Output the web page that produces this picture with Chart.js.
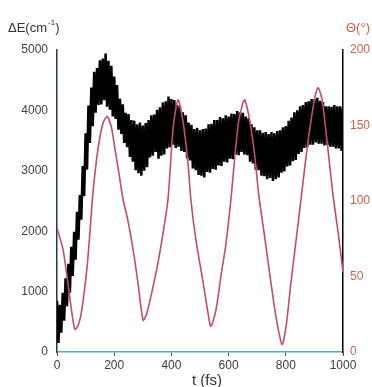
<!DOCTYPE html>
<html>
<head>
<meta charset="utf-8">
<script src="https://cdn.jsdelivr.net/npm/chart.js@4.4.1/dist/chart.umd.min.js"></script>
<style>
  body { margin: 0; background: #fff; }
  #myChart { display: block; }
</style>
</head>
<body>
<canvas id="myChart" width="372" height="387"></canvas>
<script>
// Delta E trace (cm-1), every 5 fs: it swings between the top and bottom of the black band
const traceTime = [0, 5, 10, 15, 20, 25, 30, 35, 40, 45, 50, 55, 60, 65, 70, 75, 80, 85, 90, 95,
                   100, 105, 110, 115, 120, 125, 130, 135, 140, 145, 150, 155, 160, 165, 170, 175, 180, 185, 190, 195,
                   200, 205, 210, 215, 220, 225, 230, 235, 240, 245, 250, 255, 260, 265, 270, 275, 280, 285, 290, 295,
                   300, 305, 310, 315, 320, 325, 330, 335, 340, 345, 350, 355, 360, 365, 370, 375, 380, 385, 390, 395,
                   400, 405, 410, 415, 420, 425, 430, 435, 440, 445, 450, 455, 460, 465, 470, 475, 480, 485, 490, 495,
                   500, 505, 510, 515, 520, 525, 530, 535, 540, 545, 550, 555, 560, 565, 570, 575, 580, 585, 590, 595,
                   600, 605, 610, 615, 620, 625, 630, 635, 640, 645, 650, 655, 660, 665, 670, 675, 680, 685, 690, 695,
                   700, 705, 710, 715, 720, 725, 730, 735, 740, 745, 750, 755, 760, 765, 770, 775, 780, 785, 790, 795,
                   800, 805, 810, 815, 820, 825, 830, 835, 840, 845, 850, 855, 860, 865, 870, 875, 880, 885, 890, 895,
                   900, 905, 910, 915, 920, 925, 930, 935, 940, 945, 950, 955, 960, 965, 970, 975, 980, 985, 990, 995,
                   1000];
const deltaE = [850, 150, 780, 320, 980, 520, 1220, 760, 1460, 980, 1740, 1260, 1990, 1530, 2320, 1860, 2600, 2190, 3080, 2580,
                3620, 3020, 4080, 3460, 4380, 3740, 4640, 3960, 4700, 4090, 4830, 4100, 4860, 4170, 4940, 4060, 4820, 4010, 4740, 3900,
                4560, 3860, 4420, 3680, 4190, 3610, 4100, 3460, 3960, 3390, 3940, 3230, 3840, 3150, 3830, 3010, 3770, 2960, 3800, 2920,
                3750, 3000, 3790, 3060, 3840, 3220, 3920, 3250, 3930, 3310, 4010, 3200, 4050, 3250, 4130, 3270, 4150, 3370, 4230, 3390,
                4190, 3430, 4170, 3380, 4090, 3400, 4070, 3330, 3970, 3310, 3920, 3210, 3800, 3170, 3760, 3040, 3690, 3010, 3710, 2930,
                3670, 2920, 3690, 2890, 3700, 2980, 3770, 2970, 3780, 3030, 3840, 3020, 3840, 3090, 3890, 3080, 3870, 3150, 3920, 3140,
                3900, 3200, 3950, 3190, 3940, 3270, 3990, 3260, 3970, 3310, 3960, 3270, 3900, 3260, 3870, 3150, 3770, 3120, 3720, 3020,
                3670, 3010, 3670, 2920, 3630, 2910, 3640, 2860, 3610, 2880, 3640, 2830, 3620, 2860, 3660, 2890, 3670, 2970, 3720, 2990,
                3740, 3070, 3830, 3090, 3880, 3160, 3970, 3180, 4000, 3280, 4070, 3310, 4090, 3380, 4140, 3390, 4150, 3430, 4190, 3430,
                4190, 3470, 4210, 3450, 4160, 3450, 4140, 3420, 4070, 3430, 4070, 3400, 4060, 3400, 4090, 3370, 4070, 3370, 4070, 3330,
                4040];

// Theta (degrees), red curve on the right axis
const thetaTime = [0, 21, 38, 52, 63, 75, 87, 105, 115, 126, 143, 160, 175, 190, 203, 217, 231, 248, 266, 283,
                   301, 313, 325, 350, 371, 388, 406, 423, 441, 458, 468, 486, 511, 528, 538, 556, 573, 591, 608, 633,
                   650, 657, 675, 692, 706, 724, 748, 766, 787, 801, 818, 836, 853, 878, 902, 913, 927, 944, 965, 983, 1000];
const theta = [82, 68, 46, 26, 15, 18, 28, 56, 79, 106, 134, 151, 156, 149, 134, 118, 101, 87, 68, 46,
               21, 25, 34, 56, 79, 101, 148, 167, 152, 125, 101, 74, 46, 26, 17, 28, 50, 72, 101, 150,
               165, 167, 152, 129, 103, 79, 46, 23, 5, 17, 46, 74, 101, 140, 169, 175, 167, 140, 104, 79, 53];

const leftTicks = [0, 1000, 2000, 3000, 4000, 5000];
const rightTicks = [0, 50, 100, 150, 200];
const timeTicks = [0, 200, 400, 600, 800, 1000];

const FONT = "'Liberation Sans', Arial, sans-serif";

const toPoints = (xs, ys) => xs.map((x, i) => ({ x: x, y: ys[i] }));
const plain = (v) => String(v);

// axis captions sit at the corners, like in the figure
const captions = {
  id: "captions",
  afterDraw: (chart) => {
    const ctx = chart.ctx;
    const area = chart.chartArea;
    ctx.save();
    ctx.textBaseline = "alphabetic";
    ctx.fillStyle = "#2f3338";
    ctx.font = "13px " + FONT;
    ctx.textAlign = "left";
    let x = 8;
    ctx.fillText("\u0394E(cm", x, 32);
    x += ctx.measureText("\u0394E(cm").width;
    ctx.font = "8px " + FONT;
    ctx.fillText("-1", x + 1, 25);
    x += ctx.measureText("-1").width + 1;
    ctx.font = "13px " + FONT;
    ctx.fillText(")", x, 32);

    ctx.fillStyle = "#d4604a";
    ctx.fillText("\u0398(\u00b0)", area.right + 3, 32);

    ctx.fillStyle = "#2f3338";
    ctx.font = "15px " + FONT;
    ctx.textAlign = "center";
    ctx.fillText("t (fs)", 207, 385);
    ctx.restore();
  },
};

const ctx = document.getElementById("myChart").getContext("2d");
const myChart = new Chart(ctx, {
  type: "line",
  data: {
    datasets: [
      {
        label: "theta",
        data: toPoints(thetaTime, theta),
        yAxisID: "y2",
        borderColor: "#c44c68",
        borderWidth: 1.6,
        tension: 0.25,
        pointRadius: 0,
        fill: false,
        order: 0,
      },
      {
        label: "deltaE",
        data: toPoints(traceTime, deltaE),
        yAxisID: "y",
        borderColor: "#000",
        borderWidth: 2.5,
        pointRadius: 0,
        fill: false,
        order: 1,
      },
    ],
  },
  options: {
    responsive: false,
    animation: false,
    layout: { padding: { top: 50, left: 0, right: 0, bottom: 0 } },
    plugins: { legend: { display: false }, tooltip: { enabled: false } },
    scales: {
      x: {
        type: "linear",
        min: 0,
        max: 1000,
        afterBuildTicks: (s) => { s.ticks = timeTicks.map((v) => ({ value: v })); },
        afterFit: (s) => { s.height = 35; },
        border: { color: "#5aa6c6", width: 1.5 },
        grid: { drawOnChartArea: false, drawTicks: true, tickLength: 4, color: "#4a4f55" },
        ticks: { color: "#3a3d42", font: { family: FONT, size: 12 }, padding: 2, maxRotation: 0, callback: plain },
      },
      y: {
        position: "left",
        min: 0,
        max: 5000,
        afterBuildTicks: (s) => { s.ticks = leftTicks.map((v) => ({ value: v })); },
        afterFit: (s) => { s.width = 57; },
        border: { color: "#1e3c4c", width: 1.5 },
        grid: { drawOnChartArea: false, drawTicks: false },
        ticks: { color: "#3a3f48", font: { family: FONT, size: 12 }, padding: 9, callback: plain },
      },
      y2: {
        position: "right",
        min: 0,
        max: 200,
        afterBuildTicks: (s) => { s.ticks = rightTicks.map((v) => ({ value: v })); },
        afterFit: (s) => { s.width = 29; },
        border: { color: "#000", width: 1.5 },
        grid: { drawOnChartArea: false, drawTicks: false },
        ticks: { color: "#d4604a", font: { family: FONT, size: 12 }, padding: 7, callback: plain },
      },
    },
  },
  plugins: [captions],
});
</script>
</body>
</html>
